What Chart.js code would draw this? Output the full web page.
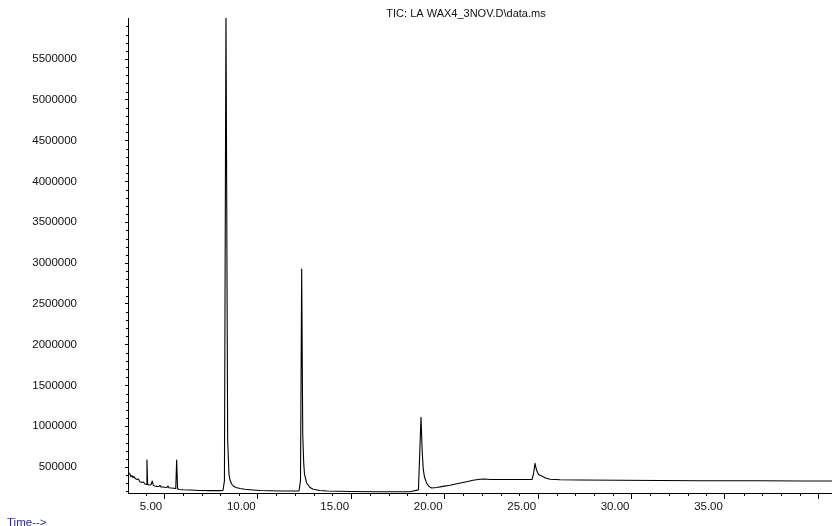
<!DOCTYPE html>
<html>
<head>
<meta charset="utf-8">
<title>TIC: LA WAX4_3NOV.D\data.ms</title>
<script src="https://cdn.jsdelivr.net/npm/chart.js@4.4.1/dist/chart.umd.min.js"></script>
<style>
    html, body { margin: 0; padding: 0; background: #fff; }
    #chartBox { position: relative; width: 832px; height: 526px; }
</style>
</head>
<body>
<div id="chartBox"><canvas id="ticChart" width="832" height="526"></canvas></div>
<script>
const chartTitle = "TIC: LA WAX4_3NOV.D\\data.ms";
const axisNote = "Time-->";

// retention time (min) and abundance
const timeMin = [
    3.06, 3.164, 3.218, 3.271, 3.325, 3.379, 3.432, 3.539, 3.619, 3.700,
    3.807, 3.887, 3.967, 4.037, 4.074, 4.112, 4.181, 4.288, 4.358, 4.422,
    4.502, 4.609, 4.716, 4.770, 4.823, 4.930, 5.037, 5.144, 5.198, 5.252,
    5.359, 5.519, 5.615, 5.664, 5.712, 5.787, 6.001, 6.375, 6.911, 7.446,
    7.981, 8.141, 8.220, 8.302, 8.393, 8.463, 8.516, 8.607,
    8.693, 8.837, 9.051, 9.319, 9.747, 10.122, 11.192, 12.209, 12.290,
    12.353, 12.410, 12.460, 12.503, 12.621, 12.797, 12.974, 13.332, 13.707, 14.938,
    16.543, 18.149, 18.600, 18.738, 18.800, 18.860, 18.925, 19.043,
    19.166, 19.310, 19.578, 19.915, 20.290, 20.718, 21.183, 21.520, 21.895, 22.163,
    22.430, 22.965, 24.036, 24.678, 24.758, 24.838, 24.919, 25.026, 25.197, 25.374,
    25.641, 26.176, 27.247, 29.387, 31.528, 33.668, 36.879, 39.020, 40.733
];
const abundance = [
    432000, 414000, 381000, 396000, 371000, 384000, 362000, 347000, 353000, 320000,
    310000, 316000, 292000, 286000, 586000, 286000, 279000, 282000, 328000, 273000,
    267000, 263000, 261000, 276000, 257000, 255000, 251000, 249000, 267000, 246000,
    243000, 239000, 237000, 586000, 233000, 224000, 221000, 218000, 212000, 210000,
    210000, 214000, 330000, 6100000, 831000, 414000, 341000, 292000,
    267000, 249000, 237000, 227000, 218000, 212000, 206000, 206000, 330000,
    2926000, 900000, 560000, 414000, 304000, 249000, 227000, 212000, 206000, 200000,
    197000, 197000, 220000, 1109000, 700000, 470000, 377000, 300000,
    261000, 243000, 249000, 263000, 276000, 297000, 320000, 337000, 350000, 353000,
    347000, 346000, 346000, 347000, 414000, 545000, 463000, 408000, 390000, 368000,
    349000, 343000, 341000, 338000, 334000, 332000, 331000, 328000, 328000
];

const xTickValues = [5, 10, 15, 20, 25, 30, 35, 40];
const xTickLabels = ["5.00", "10.00", "15.00", "20.00", "25.00", "30.00", "35.00"];
const yTickValues = [500000, 1000000, 1500000, 2000000, 2500000, 3000000,
    3500000, 4000000, 4500000, 5000000, 5500000];
const yTickLabels = ["500000", "1000000", "1500000", "2000000", "2500000", "3000000",
    "3500000", "4000000", "4500000", "5000000", "5500000"];

const fontFamily = "'Liberation Sans', Arial, Helvetica, sans-serif";

// short ticks between the labelled ones, and the loose text
const decorPlugin = {
    id: "decor",
    afterDraw(chart) {
        const ctx = chart.ctx;
        const xScale = chart.scales.x;
        const yScale = chart.scales.y;
        const area = chart.chartArea;

        ctx.save();
        ctx.strokeStyle = "#000";
        ctx.lineWidth = 1;
        ctx.beginPath();
        for (let m = Math.ceil(xScale.min); m <= xScale.max; m++) {
            if (xTickValues.includes(m)) continue;
            const px = Math.round(xScale.getPixelForValue(m)) + 0.5;
            ctx.moveTo(px, area.bottom);
            ctx.lineTo(px, area.bottom + 3);
        }
        for (let v = 200000; v <= yScale.max; v += 100000) {
            if (v % 500000 === 0) continue;
            const py = Math.round(yScale.getPixelForValue(v)) + 0.5;
            ctx.moveTo(area.left - 2, py);
            ctx.lineTo(area.left, py);
        }
        ctx.stroke();

        ctx.fillStyle = "#111";
        ctx.font = "11px " + fontFamily;
        ctx.textAlign = "center";
        ctx.textBaseline = "alphabetic";
        ctx.fillText(chartTitle, 466, 17);

        ctx.fillStyle = "#2a2aa8";
        ctx.font = "11.5px " + fontFamily;
        ctx.textAlign = "left";
        ctx.fillText(axisNote, 7, 526);
        ctx.restore();
    }
};

const points = timeMin.map((t, i) => ({ x: t, y: abundance[i] }));

const ctx = document.getElementById("ticChart").getContext("2d");
const ticChart = new Chart(ctx, {
    type: "line",
    data: {
        datasets: [{
            label: chartTitle,
            data: points,
            borderColor: "#000",
            borderWidth: 1.1,
            borderJoinStyle: "round",
            pointRadius: 0,
            tension: 0,
            fill: false
        }]
    },
    options: {
        responsive: false,
        devicePixelRatio: 1,
        animation: false,
        events: [],
        layout: { padding: { top: 18, right: 0, bottom: 0, left: 0 } },
        plugins: {
            legend: { display: false },
            tooltip: { enabled: false },
            title: { display: false }
        },
        scales: {
            x: {
                type: "linear",
                min: 3.06,
                max: 40.73,
                afterBuildTicks: (scale) => {
                    scale.ticks = xTickValues.map((v) => ({ value: v }));
                },
                afterFit: (scale) => {
                    scale.height = 33;
                    scale.paddingLeft = 0;
                    scale.paddingRight = 0;
                },
                border: { display: true, color: "#000", width: 1 },
                grid: {
                    drawOnChartArea: false,
                    drawTicks: true,
                    tickLength: 6,
                    tickColor: "#000",
                    tickWidth: 1
                },
                ticks: {
                    autoSkip: false,
                    maxRotation: 0,
                    align: "end",
                    labelOffset: -2,
                    padding: 1,
                    color: "#111",
                    font: { family: fontFamily, size: 11.5 },
                    callback: (value, index) => xTickLabels[index] || ""
                }
            },
            y: {
                type: "linear",
                min: 181400,
                max: 6002450,
                afterBuildTicks: (scale) => {
                    scale.ticks = yTickValues.map((v) => ({ value: v }));
                },
                afterFit: (scale) => {
                    scale.width = 128;
                    scale.paddingTop = 0;
                    scale.paddingBottom = 0;
                },
                border: { display: true, color: "#000", width: 1 },
                grid: {
                    drawOnChartArea: false,
                    drawTicks: true,
                    tickLength: 3,
                    tickColor: "#000",
                    tickWidth: 1
                },
                ticks: {
                    autoSkip: false,
                    padding: 48,
                    color: "#111",
                    font: { family: fontFamily, size: 11.5 },
                    callback: (value, index) => yTickLabels[index]
                }
            }
        }
    },
    plugins: [decorPlugin]
});
</script>
</body>
</html>
